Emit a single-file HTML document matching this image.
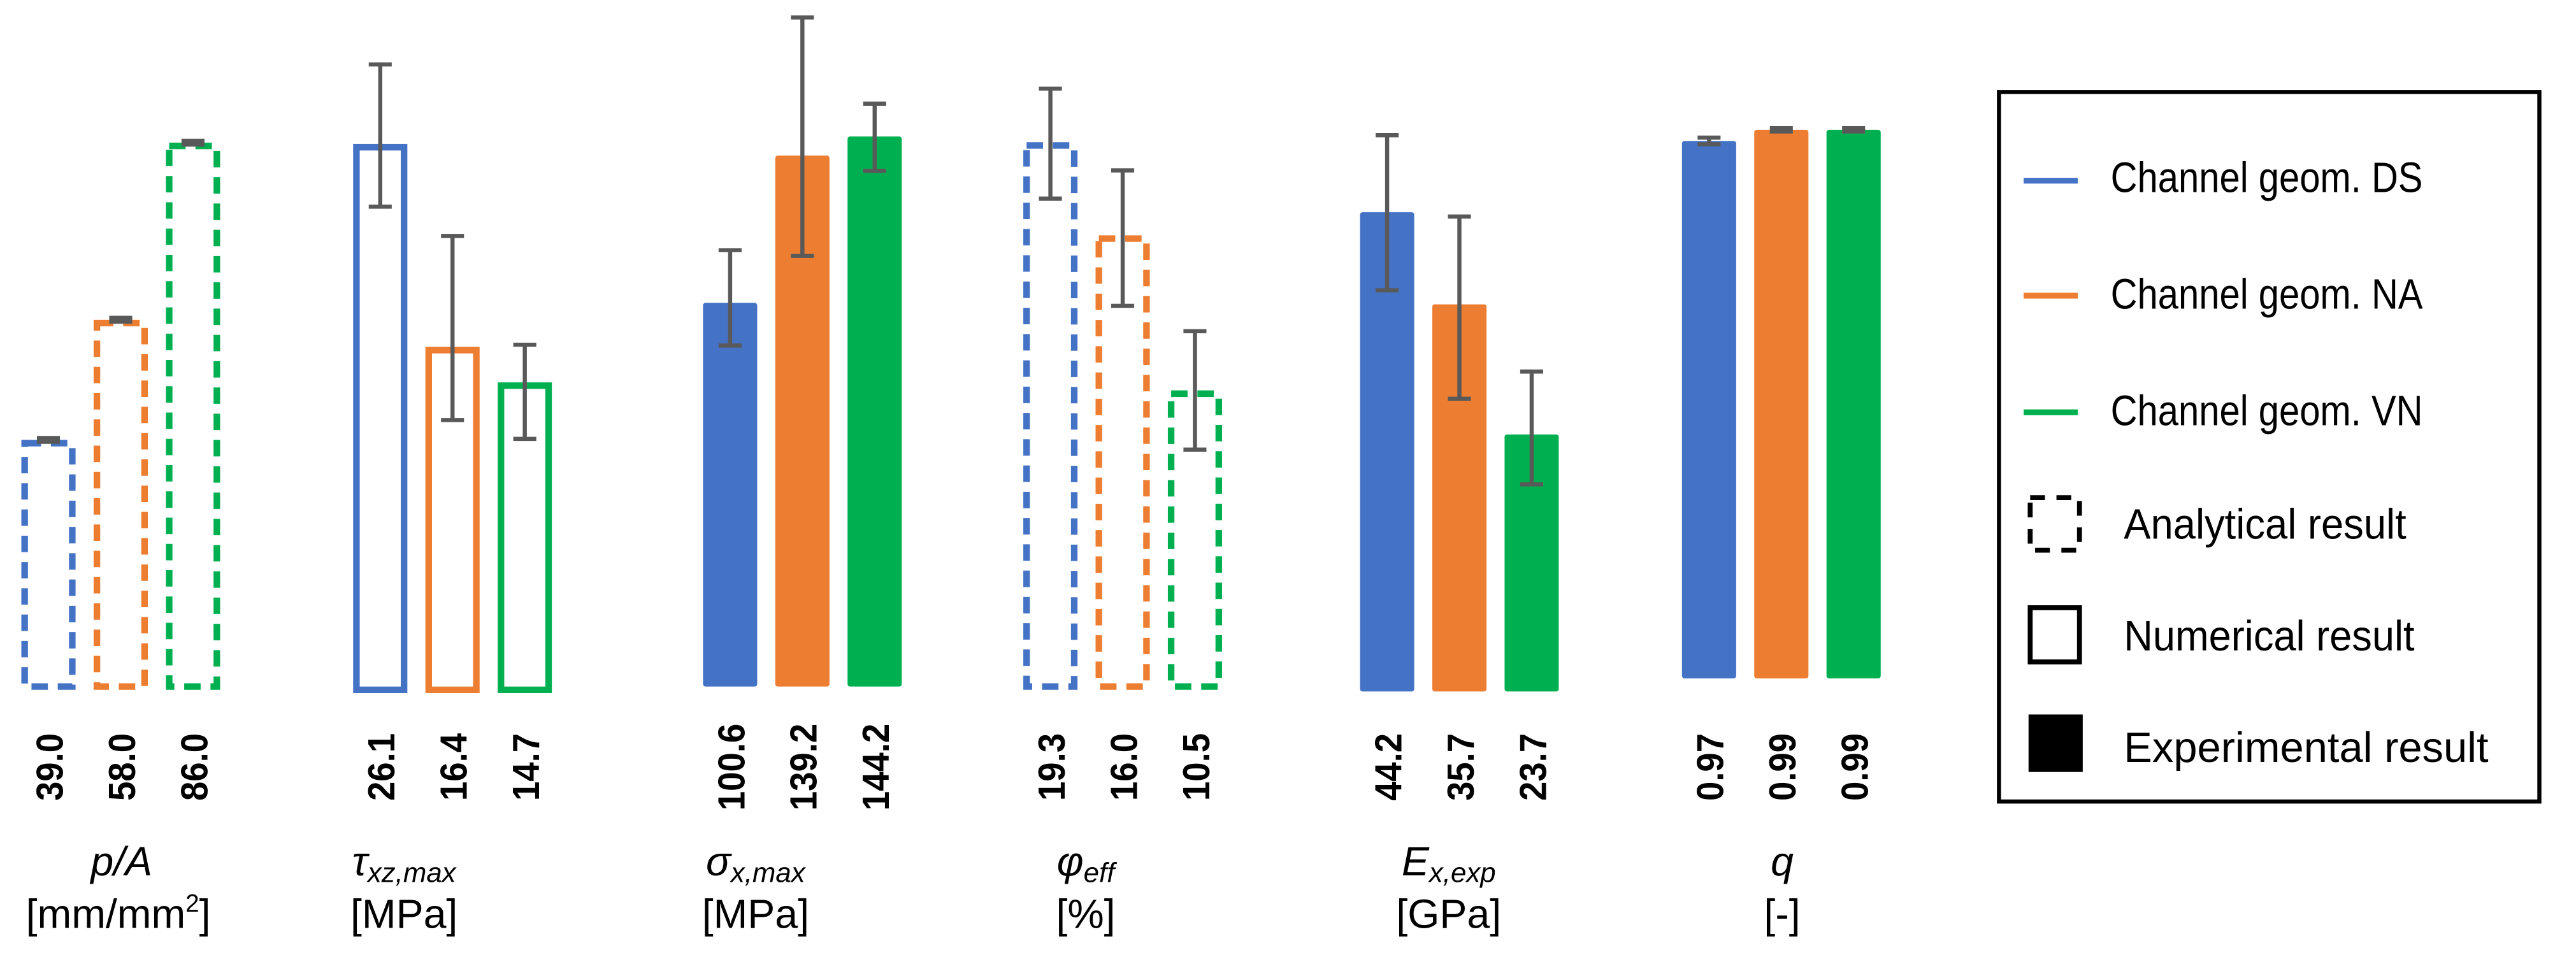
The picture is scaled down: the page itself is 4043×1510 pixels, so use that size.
<!DOCTYPE html>
<html><head><meta charset="utf-8"><style>
html,body{margin:0;padding:0;background:#fff;}
svg{display:block;}
text{font-family:"Liberation Sans",Arial,sans-serif;}
</style></head><body>
<svg id="chart" width="4043" height="1510" viewBox="0 0 1568.3 585.7" preserveAspectRatio="none" xmlns="http://www.w3.org/2000/svg">
<g id="bars"></g>
<g id="legend">
  <rect x="1217" y="56" width="329" height="432" fill="#fff" stroke="#000" stroke-width="2.5"/>
  <line x1="1232" y1="110" x2="1265" y2="110" stroke="#4472C4" stroke-width="3.5"/>
  <text x="1285" y="117" font-size="26" textLength="190" lengthAdjust="spacingAndGlyphs">Channel geom. DS</text>
  <line x1="1232" y1="180" x2="1265" y2="180" stroke="#ED7D31" stroke-width="3.5"/>
  <text x="1285" y="188" font-size="26" textLength="190" lengthAdjust="spacingAndGlyphs">Channel geom. NA</text>
  <line x1="1232" y1="251" x2="1265" y2="251" stroke="#00B050" stroke-width="3.5"/>
  <text x="1285" y="259" font-size="26" textLength="190" lengthAdjust="spacingAndGlyphs">Channel geom. VN</text>
  <rect x="1236" y="303" width="30" height="32" fill="none" stroke="#000" stroke-width="3" stroke-dasharray="9,7"/>
  <text x="1293" y="328" font-size="26" textLength="172" lengthAdjust="spacingAndGlyphs">Analytical result</text>
  <rect x="1236" y="370" width="30" height="33" fill="none" stroke="#000" stroke-width="3"/>
  <text x="1293" y="396" font-size="26" textLength="177" lengthAdjust="spacingAndGlyphs">Numerical result</text>
  <rect x="1235" y="435" width="33" height="35" fill="#000"/>
  <text x="1293" y="464" font-size="26" textLength="222" lengthAdjust="spacingAndGlyphs">Experimental result</text>
</g>
<g id="cats">
  <text x="74" y="533" font-size="25" text-anchor="middle" font-style="italic">p/A</text>
  <text x="72" y="565" font-size="25" text-anchor="middle">[mm/mm<tspan font-size="15" dy="-10">2</tspan><tspan dy="10">]</tspan></text>
  <text x="246" y="533" font-size="25" text-anchor="middle" font-style="italic">τ<tspan font-size="17" dy="4">xz,max</tspan></text>
  <text x="246" y="565" font-size="25" text-anchor="middle">[MPa]</text>
  <text x="460" y="533" font-size="25" text-anchor="middle" font-style="italic">σ<tspan font-size="17" dy="4">x,max</tspan></text>
  <text x="460" y="565" font-size="25" text-anchor="middle">[MPa]</text>
  <text x="661" y="533" font-size="25" text-anchor="middle" font-style="italic">φ<tspan font-size="17" dy="4">eff</tspan></text>
  <text x="661" y="565" font-size="25" text-anchor="middle">[%]</text>
  <text x="882" y="533" font-size="25" text-anchor="middle" font-style="italic">E<tspan font-size="17" dy="4">x,exp</tspan></text>
  <text x="882" y="565" font-size="25" text-anchor="middle">[GPa]</text>
  <text x="1085" y="533" font-size="25" text-anchor="middle" font-style="italic">q</text>
  <text x="1085" y="565" font-size="25" text-anchor="middle">[-]</text>
</g>
</svg>
<script>
const categories = ["p/A", "tau_xz,max", "sigma_x,max", "phi_eff", "E_x,exp", "q"];
const seriesNames = ["DS", "NA", "VN"];
const valuesDS = [39.0, 26.1, 100.6, 19.3, 44.2, 0.97];
const valuesNA = [58.0, 16.4, 139.2, 16.0, 35.7, 0.99];
const valuesVN = [86.0, 14.7, 144.2, 10.5, 23.7, 0.99];
const labelsDS = ["39.0", "26.1", "100.6", "19.3", "44.2", "0.97"];
const labelsNA = ["58.0", "16.4", "139.2", "16.0", "35.7", "0.99"];
const labelsVN = ["86.0", "14.7", "144.2", "10.5", "23.7", "0.99"];
const errPlusDS = [0.3, 3.8, 13.8, 1.9, 7.1, 0.006];
const errMinusDS = [0.3, 3.0, 11.2, 2.0, 7.2, 0.006];
const errPlusNA = [0.3, 5.3, 36.2, 2.3, 8.1, 0.003];
const errMinusNA = [0.3, 3.5, 26.3, 2.5, 8.7, 0.003];
const errPlusVN = [0.3, 1.8, 8.6, 2.1, 5.8, 0.003];
const errMinusVN = [0.3, 2.7, 9.0, 2.1, 4.6, 0.003];
const axisMax = [88.3, 26.7, 146.4, 19.8, 51.5, 1.008];
const barStyle = ["dashed", "outline", "filled", "dashed", "filled", "filled"];

const colors = ["#4472C4", "#ED7D31", "#00B050"];
const groupX = [13, 215, 428, 623, 828, 1024];
const baseY = [418, 420, 418, 418, 421, 413];
const plotH = 340, barW = 33, pitch = 44;
const NS = "http://www.w3.org/2000/svg";
const layer = document.getElementById("bars");
function yScale(g, v) { return baseY[g] - v / axisMax[g] * plotH; }
function xScale(g, s) { return groupX[g] + s * pitch; }

const vals = [valuesDS, valuesNA, valuesVN];
const labs = [labelsDS, labelsNA, labelsVN];
const ep = [errPlusDS, errPlusNA, errPlusVN];
const em = [errMinusDS, errMinusNA, errMinusVN];

for (let g = 0; g < categories.length; g++) {
  for (let s = 0; s < 3; s++) {
    const v = vals[s][g];
    const x = xScale(g, s), y = yScale(g, v), h = baseY[g] - y;
    const r = document.createElementNS(NS, "rect");
    
    
    if (barStyle[g] === "filled") {
      r.setAttribute("x", x); r.setAttribute("y", y);
      r.setAttribute("width", barW); r.setAttribute("height", h);
      r.setAttribute("fill", colors[s]); r.setAttribute("rx", 1.5);
    } else {
      r.setAttribute("x", x + 2); r.setAttribute("y", y + 2);
      r.setAttribute("width", barW - 4); r.setAttribute("height", h - 2);
      r.setAttribute("fill", "none"); r.setAttribute("stroke", colors[s]);
      r.setAttribute("stroke-width", 4);
      if (barStyle[g] === "dashed") r.setAttribute("stroke-dasharray", "10,6");
    }
    layer.appendChild(r);
    const cx = x + barW / 2;
    const yt = yScale(g, v + ep[s][g]), yb = yScale(g, v - em[s][g]);
    const eb = document.createElementNS(NS, "path");
    
    
    eb.setAttribute("d", `M${cx},${yt}V${yb}M${cx-7},${yt}H${cx+7}M${cx-7},${yb}H${cx+7}`);
    eb.setAttribute("stroke", "#595959"); eb.setAttribute("stroke-width", 2.5); eb.setAttribute("fill", "none");
    layer.appendChild(eb);
    const t = document.createElementNS(NS, "text");
    
    
    t.setAttribute("transform", `translate(${cx + 1},467) rotate(-90) scale(0.92,1)`);
    t.setAttribute("text-anchor", "middle");
    t.setAttribute("dominant-baseline", "central");
    t.setAttribute("font-size", "23");
    t.setAttribute("font-weight", "bold");
    t.textContent = labs[s][g];
    layer.appendChild(t);
  }
}
</script>
</body></html>
